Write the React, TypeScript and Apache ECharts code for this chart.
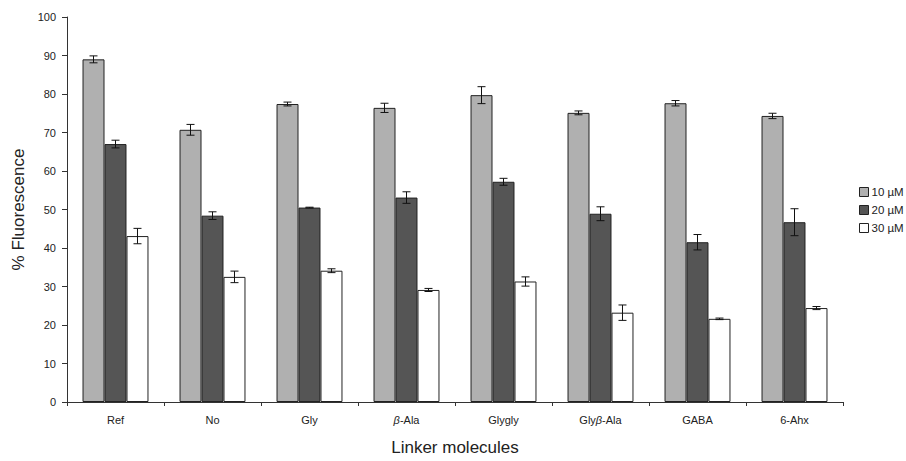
import React, { useEffect, useRef } from "react";
import * as echarts from "echarts";

const categories = ["Ref", "No", "Gly", "β-Ala", "Glygly", "Glyβ-Ala", "GABA", "6-Ahx"];
const seriesNames = ["10 µM", "20 µM", "30 µM"];
const values10 = [89.0, 70.7, 77.4, 76.4, 79.7, 75.1, 77.6, 74.3];
const errors10 = [0.9, 1.4, 0.5, 1.2, 2.2, 0.5, 0.7, 0.7];
const values20 = [67.0, 48.4, 50.5, 53.1, 57.2, 48.9, 41.5, 46.7];
const errors20 = [1.0, 1.0, 0.1, 1.5, 0.9, 1.8, 2.0, 3.5];
const values30 = [43.1, 32.5, 34.1, 29.1, 31.3, 23.2, 21.6, 24.4];
const errors30 = [2.0, 1.5, 0.5, 0.4, 1.2, 2.0, 0.2, 0.4];
const barColors = ["#b0b0b0", "#555555", "#ffffff"];

const FONT = "'Liberation Sans', Arial, sans-serif";
const CAT_GAP = 0.32;

export default function App() {
  const ref = useRef<HTMLDivElement>(null);
  useEffect(() => {
    if (!ref.current) return;
    const chart = echarts.init(ref.current, null, { renderer: "svg" });
    const allVals = [values10, values20, values30];
    const allErrs = [errors10, errors20, errors30];

    const barSeries = allVals.map((vals, si) => ({
      name: seriesNames[si],
      type: "bar",
      data: vals,
      barGap: "0%",
      barCategoryGap: CAT_GAP * 100 + "%",
      itemStyle: { color: barColors[si], borderColor: "#222", borderWidth: 1 },
    }));

    const errSeries = allVals.map((vals, si) => ({
      type: "custom",
      name: "err" + si,
      data: vals.map((v, i) => [i, v, allErrs[si][i]]),
      z: 10,
      renderItem: (params: any, api: any) => {
        const idx = api.value(0);
        const v = api.value(1);
        const e = api.value(2);
        const catW = api.size([1, 0])[0];
        const bw = (catW * (1 - CAT_GAP)) / 3;
        const base = api.coord([idx, v]);
        const x = base[0] + (si - 1) * bw;
        const top = api.coord([idx, v + e])[1];
        const bot = api.coord([idx, v - e])[1];
        const cap = 4;
        const st = { stroke: "#111", lineWidth: 1 };
        return {
          type: "group",
          children: [
            { type: "line", shape: { x1: x, y1: top, x2: x, y2: bot }, style: st },
            { type: "line", shape: { x1: x - cap, y1: top, x2: x + cap, y2: top }, style: st },
            { type: "line", shape: { x1: x - cap, y1: bot, x2: x + cap, y2: bot }, style: st },
          ],
        };
      },
    }));

    chart.setOption({
      animation: false,
      textStyle: { fontFamily: FONT },
      grid: { left: 67, top: 17, right: 63, bottom: 55, containLabel: false },
      legend: {
        data: seriesNames,
        orient: "vertical",
        left: 854,
        top: 181,
        itemWidth: 9,
        itemHeight: 9,
        itemGap: 6,
        icon: "rect",
        itemStyle: { borderColor: "#222", borderWidth: 1 },
        textStyle: { fontFamily: FONT, fontSize: 11.5, color: "#222", padding: [0, 0, 0, -2] },
      },
      xAxis: {
        type: "category",
        data: categories,
        name: "Linker molecules",
        nameLocation: "middle",
        nameGap: 37,
        nameTextStyle: { fontFamily: FONT, fontSize: 17, color: "#222" },
        axisLine: { lineStyle: { color: "#333", width: 1 } },
        axisTick: { show: true, length: 4, lineStyle: { color: "#333" } },
        axisLabel: {
          margin: 12,
          fontSize: 11,
          color: "#222",
          fontFamily: FONT,
          formatter: (v: string) => v.replace("β", "{i|β}"),
          rich: { i: { fontStyle: "italic", fontSize: 11, fontFamily: FONT, color: "#222" } },
        },
      },
      yAxis: {
        type: "value",
        min: 0,
        max: 100,
        interval: 10,
        name: "% Fluorescence",
        nameLocation: "middle",
        nameGap: 38,
        nameTextStyle: { fontFamily: FONT, fontSize: 17, color: "#222" },
        axisLine: { show: true, lineStyle: { color: "#333", width: 1 } },
        axisTick: { show: true, length: 5, lineStyle: { color: "#333" } },
        splitLine: { show: false },
        axisLabel: { fontSize: 11, color: "#222", fontFamily: FONT, margin: 11 },
      },
      series: [...barSeries, ...errSeries],
    });
    return () => chart.dispose();
  }, []);
  return (
    <div
      ref={ref}
      style={{ position: "absolute", left: 0, top: 0, width: 906, height: 461, background: "#fff" }}
    />
  );
}
